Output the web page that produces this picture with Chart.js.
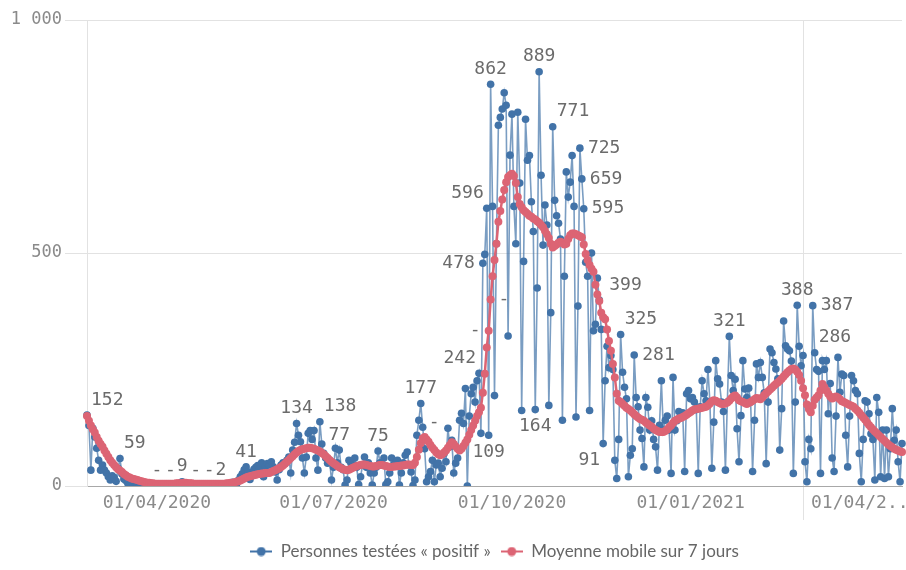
<!DOCTYPE html>
<html>
<head>
<meta charset="utf-8">
<script src="https://cdn.jsdelivr.net/npm/chart.js@4.4.1/dist/chart.umd.min.js"></script>
<style>
  html, body { margin: 0; padding: 0; background: #ffffff; }
  #wrap { width: 906px; height: 570px; position: relative; }
</style>
</head>
<body>
<div id="wrap"><canvas id="chart" width="906" height="570"></canvas></div>
<script>
// ---------- DATA ----------
const firstDay = '2020-03-28';
const dayCount = 421;

const seriesNames = ['Personnes testées « positif »', 'Moyenne mobile sur 7 jours'];

const xTickDates = ['01/04/2020', '01/07/2020', '01/10/2020', '01/01/2021', '01/04/2021'];
const xTickTexts = ['01/04/2020', '01/07/2020', '01/10/2020', '01/01/2021', '01/04/2...'];

const yTickValues = [0, 500, 1000];
const yTickTexts = ['0', '500', '1 000'];

// daily positive tests (one row per week)
const positifs = [
  152,130,34,124,105,81,55,
  34,45,34,28,20,13,22,
  18,10,38,59,26,15,12,
  6,12,9,5,7,4,3,
  2,5,3,4,2,3,1,
  3,2,4,1,2,3,1,
  0,2,3,1,4,5,6,
  9,4,2,3,1,2,0,
  1,2,3,1,2,1,0,
  1,2,1,3,1,0,2,
  1,3,4,2,5,8,6,
  3,12,20,26,35,41,30,
  14,25,36,40,44,38,50,
  20,42,48,45,52,41,30,
  13,35,45,50,48,55,62,
  28,77,94,134,109,95,60,
  28,62,113,119,100,119,60,
  34,138,90,70,60,49,55,
  13,40,81,50,77,40,35,
  2,13,55,50,45,60,40,
  3,20,45,62,40,50,28,
  2,28,40,75,50,45,60,
  3,9,28,60,45,50,55,
  2,28,50,66,73,45,30,
  1,13,109,141,177,126,80,
  9,20,31,55,9,45,49,
  20,38,70,52,124,84,98,
  28,49,60,141,156,134,209,
  0,150,198,212,180,226,242,
  113,478,497,596,109,862,600,
  194,520,774,791,809,844,817,
  322,710,798,600,520,802,650,
  162,482,787,699,709,610,546,
  164,425,889,667,517,603,560,
  173,372,771,613,580,564,530,
  141,450,674,620,652,709,600,
  148,386,725,659,595,480,450,
  162,500,333,347,446,399,336,
  91,226,300,254,280,250,55,
  16,100,325,244,212,187,20,
  66,80,281,190,170,120,102,
  41,190,169,120,140,100,84,
  34,130,226,120,141,150,120,
  27,233,120,140,160,150,157,
  31,198,205,187,190,180,164,
  27,170,226,198,183,250,180,
  38,137,269,230,219,180,160,
  34,180,321,237,205,229,123,
  52,151,269,208,190,210,180,
  31,141,262,233,265,233,200,
  48,180,294,286,265,251,230,
  77,166,354,301,294,290,268,
  27,180,388,300,258,280,52,
  9,100,80,387,286,250,246,
  27,269,250,269,155,220,60,
  31,150,276,201,240,237,109,
  41,150,237,226,205,198,70,
  9,100,183,180,155,112,100,
  13,190,158,20,120,16,120,
  20,80,166,98,120,52,9,
  91
];

// 7-day moving average
const moyenne7j = [
  150,140,130,122,115,105,97,
  90,84,76,69,62,55,50,
  45,40,36,33,30,26,23,
  20,18,16,15,14,13,11,
  10,9,8,7,7,6,6,
  5,5,5,5,5,5,5,
  5,5,5,5,6,6,6,
  6,7,7,6,6,6,5,
  5,5,5,5,5,5,5,
  5,5,5,5,5,5,5,
  5,5,6,6,7,7,8,
  9,10,12,14,16,18,20,
  21,22,23,24,25,26,27,
  27,28,28,28,30,32,34,
  36,38,41,44,48,52,56,
  60,64,68,72,75,77,79,
  80,81,82,82,81,80,78,
  76,74,71,68,64,60,56,
  52,49,46,43,40,38,36,
  35,34,35,37,39,41,43,
  44,45,46,46,45,44,43,
  42,42,43,44,45,45,44,
  43,42,41,41,42,42,43,
  43,44,44,45,46,46,45,
  45,50,62,78,92,102,105,
  100,95,88,82,77,72,68,
  66,68,72,76,82,88,94,
  90,85,80,76,80,86,93,
  100,110,120,130,140,150,158,
  168,200,241,297,333,400,450,
  485,520,567,590,615,635,652,
  663,667,670,665,650,620,605,
  598,592,588,584,580,578,574,
  572,568,565,560,555,548,540,
  532,520,512,515,518,522,524,
  522,518,520,530,538,542,542,
  540,538,536,534,518,498,485,
  474,466,460,432,411,397,372,
  362,358,336,311,290,262,233,
  198,183,180,176,172,168,165,
  162,158,154,150,147,144,142,
  140,136,133,130,127,123,120,
  118,116,116,116,118,121,126,
  130,135,140,142,145,146,148,
  150,153,156,159,162,164,165,
  166,167,168,169,170,173,177,
  182,184,183,180,178,176,176,
  177,179,183,188,192,194,190,
  184,182,180,178,176,178,180,
  183,186,189,188,186,190,195,
  199,203,207,211,215,219,222,
  226,230,235,240,244,248,251,
  252,250,245,238,226,210,195,
  175,165,158,172,185,190,195,
  205,219,212,205,198,192,188,
  190,192,190,186,182,180,178,
  176,174,172,170,166,162,157,
  152,147,142,136,131,126,121,
  117,113,109,105,101,97,93,
  89,86,83,80,78,76,74,
  73
];

// value labels shown on the chart: series (0 = positifs, 1 = moyenne), day index, text
const labelSeries = [0,0,0,0,0,0,0,0,0,0,0,0,0,0,1,0,0,0,0,1,1,0,0,0,0,0,0,0,0,0,0,0,0,0,0,0];
const labelDays   = [0,17,36,43,49,56,63,69,82,108,120,130,150,172,174,202,207,204,206,207,208,208,231,233,240,254,255,256,264,266,275,282,331,366,374,375];
const labelTexts  = ['152','59','-','-','9','-','-','2','41','134','138','77','75','177','-','242','109','478','596','-','-','862','164','889','771','725','659','595','399','91','325','281','321','388','387','286'];

// ---------- STYLE ----------
const labelPlacement = ['aboveRight','aboveRight','above','above','above','above','above','above','above','above','aboveRight','above','above','above','aboveRight','aboveLeft','below','left','aboveLeft','left','right','above','below','above','aboveRight','right','right','right','aboveRightFar','belowLeft','aboveRight','right','above','above','right','aboveRight'];

const categories = [];
(function () {
  const p = firstDay.split('-').map(Number);
  for (let i = 0; i < dayCount; i++) {
    const d = new Date(Date.UTC(p[0], p[1] - 1, p[2] + i));
    const dd = String(d.getUTCDate()).padStart(2, '0');
    const mm = String(d.getUTCMonth() + 1).padStart(2, '0');
    categories.push(dd + '/' + mm + '/' + d.getUTCFullYear());
  }
})();

const BLUE = '#4273a8';
const BLUE_LINE = 'rgba(66,115,168,0.7)';
const RED = '#dc6474';
const MONO = '"DejaVu Sans Mono", "Liberation Mono", monospace';

function legendIcon(color) {
  const c = document.createElement('canvas');
  c.width = 22; c.height = 10;
  const g = c.getContext('2d');
  g.strokeStyle = color; g.lineWidth = 2;
  g.beginPath(); g.moveTo(0, 5); g.lineTo(22, 5); g.stroke();
  g.fillStyle = color;
  g.beginPath(); g.arc(11, 5, 4.5, 0, Math.PI * 2); g.fill();
  return c;
}

const valueLabelPlugin = {
  id: 'valueLabels',
  afterDatasetsDraw(chart, args, opts) {
    const ctx = chart.ctx;
    ctx.save();
    ctx.font = opts.font;
    ctx.fillStyle = opts.color;
    labelDays.forEach((day, i) => {
      const meta = chart.getDatasetMeta(labelSeries[i]);
      const el = meta.data[day];
      if (!el) return;
      const x = el.x, y = el.y;
      const pl = opts.placement[i];
      let tx = x, ty = y;
      if (pl === 'above') { ctx.textAlign = 'center'; ctx.textBaseline = 'bottom'; ty = y - 6; }
      else if (pl === 'aboveRight') { ctx.textAlign = 'left'; ctx.textBaseline = 'bottom'; tx = x + 4; ty = y - 6; }
      else if (pl === 'aboveRightFar') { ctx.textAlign = 'left'; ctx.textBaseline = 'bottom'; tx = x + 10; ty = y - 6; }
      else if (pl === 'aboveLeft') { ctx.textAlign = 'right'; ctx.textBaseline = 'bottom'; tx = x - 3; ty = y - 6; }
      else if (pl === 'right') { ctx.textAlign = 'left'; ctx.textBaseline = 'middle'; tx = x + 8; }
      else if (pl === 'left') { ctx.textAlign = 'right'; ctx.textBaseline = 'middle'; tx = x - 8; }
      else if (pl === 'below') { ctx.textAlign = 'center'; ctx.textBaseline = 'top'; ty = y + 8; }
      else if (pl === 'belowLeft') { ctx.textAlign = 'right'; ctx.textBaseline = 'top'; tx = x - 3; ty = y + 8; }
      ctx.fillText(labelTexts[i], tx, ty);
    });
    ctx.restore();
  }
};

const isMonthTick = (i) => xTickDates.indexOf(categories[i]) !== -1;

new Chart(document.getElementById('chart'), {
  type: 'line',
  data: {
    labels: categories,
    datasets: [
      {
        label: seriesNames[0],
        data: positifs,
        borderColor: BLUE_LINE,
        backgroundColor: BLUE,
        pointBackgroundColor: BLUE,
        pointBorderWidth: 0,
        pointRadius: 3.8,
        borderWidth: 1.6,
        tension: 0,
        order: 1
      },
      {
        label: seriesNames[1],
        data: moyenne7j,
        borderColor: RED,
        backgroundColor: RED,
        pointBackgroundColor: RED,
        pointBorderWidth: 0,
        pointRadius: 4,
        borderWidth: 2.5,
        tension: 0,
        order: 0
      }
    ]
  },
  options: {
    responsive: false,
    animation: false,
    devicePixelRatio: 1,
    layout: { padding: { top: 20, right: 2, left: 0, bottom: 0 } },
    plugins: {
      tooltip: { enabled: false },
      legend: {
        position: 'bottom',
        fullSize: false,
        labels: {
          usePointStyle: true,
          pointStyleWidth: 22,
          boxHeight: 10,
          padding: 10,
          color: '#666666',
          font: { family: 'Lato', size: 17 },
          generateLabels: () => [
            { text: seriesNames[0], pointStyle: legendIcon(BLUE), fillStyle: BLUE, strokeStyle: BLUE, lineWidth: 0, hidden: false, datasetIndex: 0, fontColor: '#666666' },
            { text: seriesNames[1], pointStyle: legendIcon(RED), fillStyle: RED, strokeStyle: RED, lineWidth: 0, hidden: false, datasetIndex: 1, fontColor: '#666666' }
          ]
        }
      },
      valueLabels: {
        font: '18px ' + MONO,
        color: '#6b6b6b',
        placement: labelPlacement
      }
    },
    scales: {
      x: {
        type: 'category',
        offset: false,
        afterFit(scale) { scale.height = 47; },
        grid: {
          drawOnChartArea: true,
          tickLength: 34,
          lineWidth: 1,
          color: (c) => (c.index !== undefined && isMonthTick(c.index)) ? '#e2e2e2' : 'rgba(0,0,0,0)',
          tickColor: (c) => (c.index !== undefined && isMonthTick(c.index)) ? '#e2e2e2' : 'rgba(0,0,0,0)'
        },
        border: { display: true, color: '#a8a8a8', width: 1 },
        ticks: {
          autoSkip: false,
          maxRotation: 0,
          minRotation: 0,
          align: 'start',
          labelOffset: 8,
          padding: -27,
          color: '#8a8a8a',
          font: { family: MONO, size: 18 },
          callback: (v, i) => {
            const k = xTickDates.indexOf(categories[i]);
            return k === -1 ? null : xTickTexts[k];
          }
        }
      },
      y: {
        min: 0,
        max: 1000,
        afterFit(scale) { scale.width = 87; },
        afterBuildTicks(scale) { scale.ticks = yTickValues.map(v => ({ value: v })); },
        grid: { color: '#e2e2e2', tickLength: 22, tickColor: '#e2e2e2' },
        border: { display: true, color: '#e2e2e2' },
        ticks: {
          padding: 3,
          color: '#8a8a8a',
          font: { family: MONO, size: 17 },
          callback: (v) => yTickTexts[yTickValues.indexOf(v)]
        }
      }
    }
  },
  plugins: [valueLabelPlugin]
});
</script>
</body>
</html>
